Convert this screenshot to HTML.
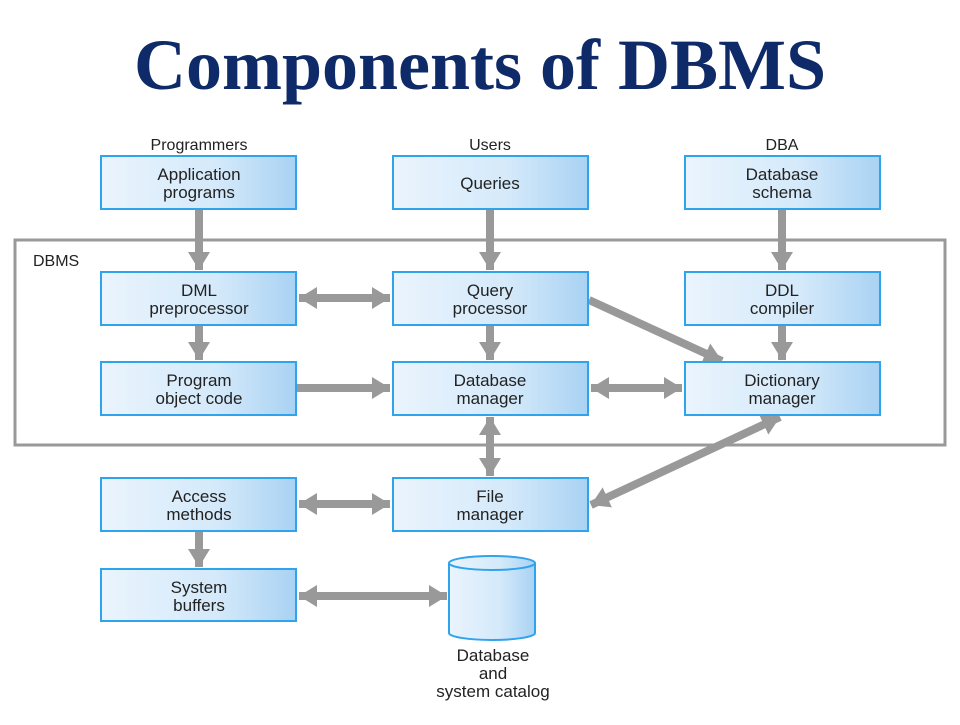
<!DOCTYPE html>
<html><head><meta charset="utf-8"><style>
html,body{margin:0;padding:0;background:#fff;}
svg text{font-family:"Liberation Sans",Arial,sans-serif;}
</style></head><body>
<svg width="960" height="720" viewBox="0 0 960 720" xmlns="http://www.w3.org/2000/svg">
<defs>
<linearGradient id="g" x1="0" x2="1" y1="0" y2="0">
<stop offset="0" stop-color="#eaf4fd"/><stop offset="0.6" stop-color="#d4e9fa"/><stop offset="1" stop-color="#a9d2f3"/>
</linearGradient>
<marker id="a" markerUnits="userSpaceOnUse" markerWidth="22" markerHeight="24" refX="18" refY="12" orient="auto-start-reverse">
<polygon points="0,1 18,12 0,23" fill="#999"/>
</marker>
</defs>
<text x="480" y="89" text-anchor="middle" font-weight="bold" font-size="72" fill="#0f2a68" style="font-family:'Liberation Serif',serif">Components of DBMS</text>

<rect x="15" y="240" width="930" height="205" fill="none" stroke="#999" stroke-width="3"/>
<text x="33" y="266" font-size="16" fill="#222">DBMS</text>

<g font-size="16" fill="#222" text-anchor="middle">
<text x="199" y="150">Programmers</text>
<text x="490" y="150">Users</text>
<text x="782" y="150">DBA</text>
</g>

<g stroke="#999" stroke-width="8" fill="none">
<line x1="199" y1="209" x2="199" y2="270" marker-end="url(#a)"/>
<line x1="490" y1="209" x2="490" y2="270" marker-end="url(#a)"/>
<line x1="782" y1="209" x2="782" y2="270" marker-end="url(#a)"/>
<line x1="299" y1="298" x2="390" y2="298" marker-start="url(#a)" marker-end="url(#a)"/>
<line x1="199" y1="325" x2="199" y2="360" marker-end="url(#a)"/>
<line x1="490" y1="325" x2="490" y2="360" marker-end="url(#a)"/>
<line x1="782" y1="325" x2="782" y2="360" marker-end="url(#a)"/>
<line x1="589" y1="300" x2="722" y2="361" marker-end="url(#a)"/>
<line x1="297" y1="388" x2="390" y2="388" marker-end="url(#a)"/>
<line x1="591" y1="388" x2="682" y2="388" marker-start="url(#a)" marker-end="url(#a)"/>
<line x1="490" y1="417" x2="490" y2="476" marker-start="url(#a)" marker-end="url(#a)"/>
<line x1="780" y1="417" x2="591" y2="505" marker-start="url(#a)" marker-end="url(#a)"/>
<line x1="299" y1="504" x2="390" y2="504" marker-start="url(#a)" marker-end="url(#a)"/>
<line x1="199" y1="531" x2="199" y2="567" marker-end="url(#a)"/>
<line x1="299" y1="596" x2="447" y2="596" marker-start="url(#a)" marker-end="url(#a)"/>
</g>

<g fill="url(#g)" stroke="#2fa3ec" stroke-width="2">
<rect x="101" y="156" width="195" height="53"/>
<rect x="393" y="156" width="195" height="53"/>
<rect x="685" y="156" width="195" height="53"/>
<rect x="101" y="272" width="195" height="53"/>
<rect x="393" y="272" width="195" height="53"/>
<rect x="685" y="272" width="195" height="53"/>
<rect x="101" y="362" width="195" height="53"/>
<rect x="393" y="362" width="195" height="53"/>
<rect x="685" y="362" width="195" height="53"/>
<rect x="101" y="478" width="195" height="53"/>
<rect x="393" y="478" width="195" height="53"/>
<rect x="101" y="569" width="195" height="52"/>
<path d="M449,563 L449,633 A43,7 0 0 0 535,633 L535,563"/>
<ellipse cx="492" cy="563" rx="43" ry="7"/>
</g>

<g font-size="17" fill="#222" text-anchor="middle">
<text x="199" y="180">Application</text><text x="199" y="198">programs</text>
<text x="490" y="189">Queries</text>
<text x="782" y="180">Database</text><text x="782" y="198">schema</text>
<text x="199" y="296">DML</text><text x="199" y="314">preprocessor</text>
<text x="490" y="296">Query</text><text x="490" y="314">processor</text>
<text x="782" y="296">DDL</text><text x="782" y="314">compiler</text>
<text x="199" y="386">Program</text><text x="199" y="404">object code</text>
<text x="490" y="386">Database</text><text x="490" y="404">manager</text>
<text x="782" y="386">Dictionary</text><text x="782" y="404">manager</text>
<text x="199" y="502">Access</text><text x="199" y="520">methods</text>
<text x="490" y="502">File</text><text x="490" y="520">manager</text>
<text x="199" y="593">System</text><text x="199" y="611">buffers</text>
<text x="493" y="661">Database</text><text x="493" y="679">and</text><text x="493" y="697">system catalog</text>
</g>
</svg>
</body></html>
